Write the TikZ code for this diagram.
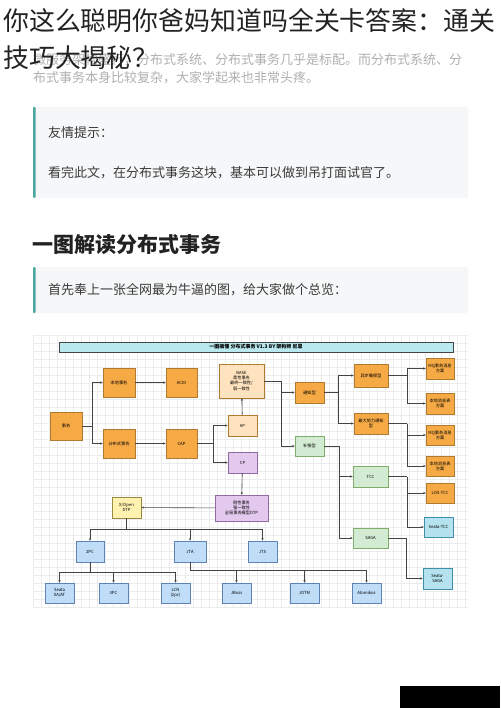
\documentclass[tikz,border=0pt]{standalone}
\usepackage{fontspec}
\setmainfont{Noto Sans CJK SC}
\usetikzlibrary{arrows.meta}
\definecolor{txtdark}{HTML}{222222}
\definecolor{txtgray}{HTML}{B0B0B0}
\definecolor{quotebg}{HTML}{F6F7F8}
\definecolor{quotebar}{HTML}{4AA89E}
\definecolor{quotetxt}{HTML}{3A3A3A}
\definecolor{gridc}{HTML}{ECECEC}
\definecolor{orgfill}{HTML}{F6AA45}
\definecolor{orgdraw}{HTML}{B07A30}
\definecolor{lorgfill}{HTML}{FFE3BE}
\definecolor{purfill}{HTML}{E3C9EE}
\definecolor{purdraw}{HTML}{8E6AA0}
\definecolor{grnfill}{HTML}{D3EBD3}
\definecolor{grndraw}{HTML}{7FAE6A}
\definecolor{blufill}{HTML}{BFDDF7}
\definecolor{bludraw}{HTML}{5F83B5}
\definecolor{cyafill}{HTML}{B4E3EF}
\definecolor{cyadraw}{HTML}{3F8FA8}
\definecolor{yelfill}{HTML}{FFF2B0}
\definecolor{yeldraw}{HTML}{9A8A40}
\definecolor{barfill}{HTML}{B9E8EF}
\definecolor{linec}{HTML}{444444}
\tikzset{
  nbox/.style={draw, line width=0.5pt, inner sep=0pt, align=center,
    font=\fontsize{4.2}{5.2}\selectfont, text=black},
  obox/.style={nbox, fill=orgfill, draw=orgdraw},
  lobox/.style={nbox, fill=lorgfill, draw=orgdraw},
  pbox/.style={nbox, fill=purfill, draw=purdraw},
  gbox/.style={nbox, fill=grnfill, draw=grndraw},
  bbox/.style={nbox, fill=blufill, draw=bludraw},
  cbox/.style={nbox, fill=cyafill, draw=cyadraw},
  ybox/.style={nbox, fill=yelfill, draw=yeldraw},
  arr/.style={draw=linec, line width=0.6pt, -{Stealth[length=2.6pt,width=2.2pt]}},
  ln/.style={draw=linec, line width=0.6pt},
}
\begin{document}
\begin{tikzpicture}[x=1pt,y=-1pt]
\useasboundingbox (0,0) rectangle (500,708);
\fill[white] (0,0) rectangle (500,708);

% gray intro text (partly hidden by title)
\node[anchor=west, inner sep=0, text=txtgray, font=\fontsize{13}{15}\selectfont] (p1) at (33,60) {微服务架构盛行，分布式系统、分布式事务几乎是标配。而分布式系统、分};
\node[anchor=west, inner sep=0, text=txtgray, font=\fontsize{13}{15}\selectfont] (p2) at (33,78) {布式事务本身比较复杂，大家学起来也非常头疼。};

% title
\node[anchor=west, inner sep=0, text=txtdark, font=\fontsize{25.9}{30}\selectfont] (t1) at (3,21) {你这么聪明你爸妈知道吗全关卡答案：通关};
\node[anchor=west, inner sep=0, text=txtdark, font=\fontsize{25.9}{30}\selectfont] (t2) at (3,58) {技巧大揭秘？};

% quote box 1
\fill[quotebg, rounded corners=2pt] (33,107) rectangle (468,198);
\fill[quotebar, rounded corners=1pt] (33,107) rectangle (35.5,198);
\node[anchor=west, inner sep=0, text=quotetxt, font=\fontsize{13}{15}\selectfont] (q1) at (48,133) {友情提示：};
\node[anchor=west, inner sep=0, text=quotetxt, font=\fontsize{13}{15}\selectfont] (q2) at (48,173) {看完此文，在分布式事务这块，基本可以做到吊打面试官了。};

% heading
\node[anchor=west, inner sep=0, text=txtdark, font=\fontsize{21}{24}\selectfont\bfseries] (h1) at (32,245) {一图解读分布式事务};

% quote box 2
\fill[quotebg, rounded corners=2pt] (33,267) rectangle (468,313);
\fill[quotebar, rounded corners=1pt] (33,267) rectangle (35.5,313);
\node[anchor=west, inner sep=0, text=quotetxt, font=\fontsize{13}{15}\selectfont] (q3) at (48,290) {首先奉上一张全网最为牛逼的图，给大家做个总览：};

% diagram background with grid
\fill[white] (33,335) rectangle (468,607);
\foreach \gx in {33,41,...,468} \draw[gridc, line width=0.35pt] (\gx,335) -- (\gx,607);
\foreach \gy in {335,343,...,607} \draw[gridc, line width=0.35pt] (33,\gy) -- (468,\gy);

% header bar
\node[draw=linec, fill=barfill, line width=0.5pt, minimum width=394pt, minimum height=10pt, inner sep=0, font=\fontsize{5}{6}\selectfont\bfseries] (bar) at (256,347) {一图搞懂 分布式事务 V1.3 BY 架构师 尼恩};

% nodes
\node[obox, minimum width=32pt, minimum height=28pt] (shiwu) at (66,426) {事务};
\node[obox, minimum width=32pt, minimum height=29pt] (bendi) at (119,382.5) {本地事务};
\node[obox, minimum width=32pt, minimum height=29pt] (fenbu) at (119,443.5) {分布式事务};
\node[obox, minimum width=31pt, minimum height=29pt] (acid) at (181.5,382.5) {ACID};
\node[obox, minimum width=31pt, minimum height=29pt] (cap) at (181.5,443.5) {CAP};
\node[lobox, minimum width=45pt, minimum height=34pt] (base) at (241.5,381) {BASE\\柔性事务\\最终一致性/\\弱一致性};
\node[lobox, minimum width=29pt, minimum height=21pt] (ap) at (242.5,425.5) {AP};
\node[pbox, minimum width=29pt, minimum height=21pt] (cp) at (242.5,462.5) {CP};
\node[pbox, minimum width=53pt, minimum height=26pt] (gang) at (241.5,508) {刚性事务\\强一致性\\全局事务模型DTP};
\node[ybox, minimum width=29pt, minimum height=21pt] (xopen) at (126.5,507.5) {X/Open\\DTP};

\node[obox, minimum width=29pt, minimum height=21pt] (tongzhi) at (309.5,392.5) {通知型};
\node[gbox, minimum width=29pt, minimum height=20pt] (buchang) at (309.5,446) {补偿型};
\node[obox, minimum width=34pt, minimum height=23pt] (yibu) at (371,375.5) {异步确保型};
\node[obox, minimum width=34pt, minimum height=21pt] (zuida) at (371,423.5) {最大努力通知\\型};
\node[obox, minimum width=28pt, minimum height=21pt] (mqa) at (440,368.5) {MQ事务消息\\方案};
\node[obox, minimum width=28pt, minimum height=21pt] (bda) at (440,403.5) {本地消息表\\方案};
\node[obox, minimum width=28pt, minimum height=20pt] (mqb) at (440,435) {MQ事务消息\\方案};
\node[obox, minimum width=28pt, minimum height=20pt] (bdb) at (440,466) {本地消息表\\方案};
\node[gbox, minimum width=35pt, minimum height=21pt] (tcc) at (370.5,476.5) {TCC};
\node[gbox, minimum width=35pt, minimum height=20pt] (saga) at (370.5,538) {SAGA};
\node[obox, minimum width=28pt, minimum height=20pt] (lcntcc) at (440,493) {LCN-TCC};
\node[cbox, minimum width=29pt, minimum height=20pt] (seatatcc) at (438.5,527) {Seata-TCC};
\node[cbox, minimum width=29pt, minimum height=21pt] (seatasaga) at (437.5,578.5) {Seata-\\SAGA};

\node[bbox, minimum width=28pt, minimum height=21pt] (twopc) at (90,551.5) {2PC};
\node[bbox, minimum width=32pt, minimum height=21pt] (jta) at (190,551.5) {JTA};
\node[bbox, minimum width=29pt, minimum height=21pt] (jts) at (262.5,551.5) {JTS};
\node[bbox, minimum width=29pt, minimum height=20pt] (seataxa) at (59.5,593) {Seata\\XA/AT};
\node[bbox, minimum width=29pt, minimum height=20pt] (threepc) at (113.5,593) {3PC};
\node[bbox, minimum width=29pt, minimum height=20pt] (lcn) at (175.5,593) {LCN\\(2pc)};
\node[bbox, minimum width=29pt, minimum height=20pt] (jboss) at (236.5,593) {JBoss};
\node[bbox, minimum width=29pt, minimum height=20pt] (jotm) at (304.5,593) {JOTM};
\node[bbox, minimum width=29pt, minimum height=20pt] (atom) at (366.5,593) {Atomikos};

% junction coordinates
\coordinate (j1) at (92,426);
\coordinate (j2) at (213,443.5);
\coordinate (j3) at (281,381);
\coordinate (j4) at (338,392.5);
\coordinate (j5) at (407,375.5);
\coordinate (j6) at (407,423.5);
\coordinate (j7) at (339,446);
\coordinate (j8) at (407,476.5);
\coordinate (j9) at (406,538);
\coordinate (j10) at (126.5,529);
\coordinate (j11) at (90,572);
\coordinate (j12) at (190,570);

% connectors
\draw[ln] (shiwu) -- (j1);
\draw[arr] (j1) |- (bendi);
\draw[arr] (j1) |- (fenbu);
\draw[arr] (bendi) -- (acid);
\draw[arr] (fenbu) -- (cap);
\draw[ln] (cap) -- (j2);
\draw[arr] (j2) |- (ap);
\draw[arr] (j2) |- (cp);
\draw[arr] (ap) -- (base);
\draw[arr] (cp) -- (gang);
\draw[arr] (gang) -- (xopen);

\draw[ln] (base) -- (j3);
\draw[arr] (j3) |- (tongzhi);
\draw[arr] (j3) |- (buchang);
\draw[ln] (tongzhi) -- (j4);
\draw[arr] (j4) |- (yibu);
\draw[arr] (j4) |- (zuida);
\draw[ln] (yibu) -- (j5);
\draw[arr] (j5) |- (mqa);
\draw[arr] (j5) |- (bda);
\draw[ln] (zuida) -- (j6);
\draw[arr] (j6) |- (mqb);
\draw[arr] (j6) |- (bdb);
\draw[ln] (buchang) -- (j7);
\draw[arr] (j7) |- (tcc);
\draw[arr] (j7) |- (saga);
\draw[ln] (tcc) -- (j8);
\draw[arr] (j8) |- (lcntcc);
\draw[arr] (j8) |- (seatatcc);
\draw[ln] (saga) -- (j9);
\draw[arr] (j9) |- (seatasaga);

\draw[ln] (xopen) -- (j10);
\draw[arr] (j10) -| (twopc);
\draw[arr] (j10) -| (jta);
\draw[arr] (j10) -| (jts);
\draw[ln] (twopc) -- (j11);
\draw[arr] (j11) -| (seataxa);
\draw[arr] (j11) -| (threepc);
\draw[arr] (j11) -| (lcn);
\draw[ln] (jta) -- (j12);
\draw[arr] (j12) -| (jboss);
\draw[arr] (j12) -| (jotm);
\draw[arr] (j12) -| (atom);

% watermark box
\fill[black] (400,686) rectangle (500,708);
\end{tikzpicture}
\end{document}
